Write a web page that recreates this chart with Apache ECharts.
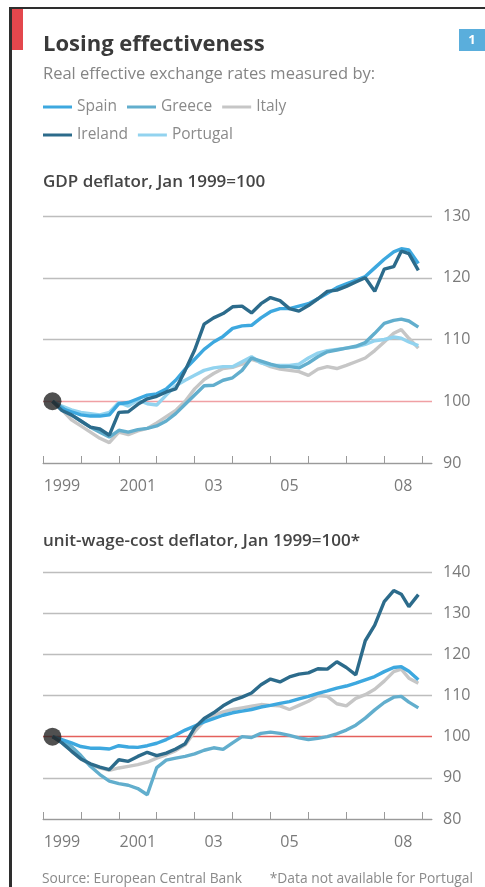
<!DOCTYPE html>
<html>
<head>
<meta charset="utf-8">
<script src="https://cdn.jsdelivr.net/npm/echarts@6/dist/echarts.min.js"></script>
<style>
  html, body { margin: 0; padding: 0; background: #fff; }
  #myecharts { width: 485px; height: 887px; }
</style>
</head>
<body>
<div id="myecharts"></div>
<script>
// quarterly readings, Jan 1999 = 100
var years = [1999.25, 1999.5, 1999.75, 2000, 2000.25, 2000.5, 2000.75, 2001, 2001.25, 2001.5,
  2001.75, 2002, 2002.25, 2002.5, 2002.75, 2003, 2003.25, 2003.5, 2003.75, 2004,
  2004.25, 2004.5, 2004.75, 2005, 2005.25, 2005.5, 2005.75, 2006, 2006.25, 2006.5,
  2006.75, 2007, 2007.25, 2007.5, 2007.75, 2008, 2008.25, 2008.45, 2008.65, 2008.9];

// GDP deflator
var gdpSpain = [100, 98.8, 98.3, 97.8, 97.6, 97.6, 97.8, 99.6, 99.8, 100.4, 101, 101.2, 102, 103.4, 105.2, 106.8, 108.4, 109.6, 110.5, 111.8, 112.2, 112.3, 113.5, 114.5, 115, 115, 115.4, 115.8, 116.6, 117.5, 118.4, 119, 119.6, 120.2, 121.6, 123, 124.2, 124.7, 124.5, 122.3];
var gdpGreece = [100, 99, 97.8, 96.8, 95.8, 95, 94.2, 95.3, 95, 95.4, 95.6, 96, 96.8, 98, 99.5, 101, 102.5, 102.6, 103.4, 103.8, 105, 107, 106.5, 106, 105.6, 105.6, 105.4, 106.2, 107.2, 108, 108.3, 108.6, 108.9, 109.5, 111, 112.6, 113.1, 113.3, 113, 112];
var gdpItaly = [100, 98.6, 97, 96, 95, 94, 93.3, 95, 94.6, 95.2, 95.6, 96.5, 97.5, 98.5, 100, 102, 103.5, 104.5, 105.3, 105.5, 106, 106.8, 106.3, 105.6, 105.2, 105, 104.8, 104.2, 105.2, 105.6, 105.3, 105.8, 106.4, 107, 108.2, 109.6, 111, 111.6, 110.2, 108.6];
var gdpIreland = [100, 98.5, 97.8, 96.8, 95.8, 95.5, 94.5, 98.2, 98.3, 99.5, 100.4, 100.8, 101.5, 102, 105, 108.3, 112.5, 113.5, 114.2, 115.3, 115.4, 114.3, 115.8, 116.8, 116.3, 115, 114.6, 115.5, 116.6, 117.8, 118, 118.6, 119.3, 120, 117.8, 121.4, 121.8, 124.3, 123.9, 121.2];
var gdpPortugal = [100, 99.2, 98.6, 98.2, 98, 97.8, 98.2, 99.8, 99.2, 100.2, 99.6, 99.4, 101, 102.5, 103.4, 104.2, 105, 105.4, 105.6, 105.6, 106.4, 107.2, 106.2, 105.8, 105.8, 105.8, 106, 107, 107.8, 108.2, 108.4, 108.6, 108.8, 109.2, 109.8, 110, 110.4, 110.2, 109.6, 109];

// unit-wage-cost deflator (no Portugal)
var ulcSpain = [100, 99.3, 98.5, 97.6, 97.2, 97.2, 97, 97.8, 97.5, 97.4, 97.8, 98.4, 99.3, 100.4, 101.6, 102.6, 103.6, 104.4, 105.2, 105.8, 106.2, 106.6, 107.2, 107.6, 108.1, 108.5, 109.2, 109.8, 110.5, 111.1, 111.8, 112.3, 113, 113.8, 114.6, 115.8, 116.8, 117, 115.9, 113.8];
var ulcGreece = [100, 99, 97.6, 95.4, 92.8, 90.8, 89.2, 88.6, 88.2, 87.4, 85.9, 92.5, 94.3, 94.8, 95.2, 95.8, 96.7, 97.3, 96.9, 98.5, 100, 99.8, 100.8, 101.1, 100.8, 100.3, 99.7, 99.3, 99.6, 100, 100.7, 101.6, 102.8, 104.5, 106.5, 108.3, 109.6, 109.8, 108.4, 107];
var ulcItaly = [100, 98.6, 96.5, 94.6, 93.2, 92.4, 91.8, 92.4, 92.8, 93.2, 93.8, 94.8, 95.6, 96.6, 98, 101.2, 103.8, 105.2, 106, 106.6, 107, 107.4, 107.8, 107.6, 107.5, 106.6, 107.6, 108.6, 110, 109.8, 108, 107.5, 109.3, 110.2, 111.5, 113.5, 115.8, 116.4, 114.2, 113];
var ulcIreland = [100, 98.5, 96.5, 94.6, 93.4, 92.6, 92, 94.4, 94, 95.2, 96.2, 95.4, 96, 97, 98.3, 102.2, 104.4, 105.8, 107.5, 108.8, 109.6, 110.6, 112.6, 114, 113.3, 114.5, 115.2, 115.5, 116.5, 116.4, 118.2, 116.8, 115, 123.3, 127.1, 132.8, 135.5, 134.6, 131.6, 134.5];

var tickYears = [1999, 2000, 2001, 2002, 2003, 2004, 2005, 2006, 2007, 2008, 2009];
var labelYears = [1999.5, 2001.5, 2003.5, 2005.5, 2008.5];
var labelText = ['1999', '2001', '03', '05', '08'];

var colors = {
  Spain: '#3da8df',
  Greece: '#62aecd',
  Italy: '#c6c6c6',
  Ireland: '#2c6b8b',
  Portugal: '#92d3ef'
};

var font = '"Open Sans", "Noto Sans", sans-serif';

function pairs(vals) {
  return vals.map(function (v, i) { return [years[i], v]; });
}

function line(name, vals, idx) {
  return {
    name: name, type: 'line', xAxisIndex: idx, yAxisIndex: idx,
    data: pairs(vals), showSymbol: false, symbol: 'none',
    lineStyle: { width: 3.4, color: colors[name] },
    itemStyle: { color: colors[name] },
    animation: false
  };
}

function xAx(idx) {
  return {
    type: 'value', gridIndex: idx, min: 1999, max: 2009.26,
    axisLine: { show: true, lineStyle: { color: '#9a9a9a', width: 1 } },
    axisTick: { show: true, inside: true, length: 7, customValues: tickYears, lineStyle: { color: '#9a9a9a' } },
    axisLabel: {
      customValues: labelYears, margin: 15, color: '#7a7a7a', fontSize: 16, fontFamily: font,
      formatter: function (v) { return labelText[labelYears.indexOf(v)]; }
    },
    splitLine: { show: false }
  };
}

function yAx(idx, min, max, lineColors) {
  return {
    type: 'value', gridIndex: idx, position: 'right', min: min, max: max, interval: 10,
    axisLine: { show: false }, axisTick: { show: false },
    axisLabel: { margin: 11, color: '#7a7a7a', fontSize: 16, fontFamily: font },
    splitLine: { show: true, lineStyle: { color: lineColors, width: 1.3 } }
  };
}

var hh = document.getElementById('myecharts');
var echart = echarts.init(hh, null, { renderer: 'canvas' });

var legendText = { color: '#8a8a8a', fontSize: 15.5, fontFamily: font };

echart.setOption({
  animation: false,
  backgroundColor: '#ffffff',
  title: [
    { text: 'Losing effectiveness', left: 43, top: 34, padding: 0,
      textStyle: { fontSize: 22, fontWeight: 'bold', color: '#3a3a3a', fontFamily: font } },
    { text: 'Real effective exchange rates measured by:', left: 43, top: 66, padding: 0,
      textStyle: { fontSize: 16.5, fontWeight: 'normal', color: '#858585', fontFamily: font } },
    { text: 'GDP deflator, Jan 1999=100', left: 43, top: 174, padding: 0,
      textStyle: { fontSize: 17, fontWeight: 600, color: '#454545', fontFamily: font } },
    { text: 'unit-wage-cost deflator, Jan 1999=100*', left: 43, top: 533, padding: 0,
      textStyle: { fontSize: 17, fontWeight: 600, color: '#454545', fontFamily: font } },
    { text: 'Source: European Central Bank', left: 42, top: 872, padding: 0,
      textStyle: { fontSize: 13.8, fontWeight: 'normal', color: '#8a8a8a', fontFamily: font } },
    { text: '*Data not available for Portugal', right: 12, top: 872, padding: 0,
      textStyle: { fontSize: 13.8, fontWeight: 'normal', color: '#8a8a8a', fontFamily: font } }
  ],
  legend: [
    { left: 43, top: 99, padding: 0, icon: 'rect', itemWidth: 29, itemHeight: 3, itemGap: 10,
      textStyle: legendText, selectedMode: false,
      data: [{ name: 'Spain', textStyle: { width: 75 } }, { name: 'Greece', textStyle: { width: 81 } }, 'Italy'] },
    { left: 43, top: 127, padding: 0, icon: 'rect', itemWidth: 29, itemHeight: 3, itemGap: 10,
      textStyle: legendText, selectedMode: false,
      data: [{ name: 'Ireland', textStyle: { width: 75 } }, 'Portugal'] }
  ],
  grid: [
    { left: 43, right: 53, top: 216, height: 247 },
    { left: 43, right: 53, top: 572, height: 247 }
  ],
  xAxis: [xAx(0), xAx(1)],
  yAxis: [
    yAx(0, 90, 130, ['#a8a8a8', '#f0a0a4', '#bdbdbd', '#bdbdbd', '#bdbdbd']),
    yAx(1, 80, 140, ['#a8a8a8', '#bdbdbd', '#e4605c', '#bdbdbd', '#bdbdbd', '#bdbdbd', '#bdbdbd'])
  ],
  graphic: [
    { type: 'rect', shape: { x: 9, y: 7, width: 476, height: 2 }, style: { fill: '#2e2e2e' } },
    { type: 'rect', shape: { x: 9, y: 7, width: 3, height: 880 }, style: { fill: '#2e2e2e' } },
    { type: 'rect', shape: { x: 12, y: 9, width: 11, height: 41 }, style: { fill: '#e3474d' } },
    { type: 'rect', shape: { x: 459, y: 29, width: 26, height: 22 }, style: { fill: '#5aaedc' } },
    { type: 'text', x: 472, y: 40, style: { text: '1', fill: '#fff', font: 'bold 13px ' + font, align: 'center', verticalAlign: 'middle' } }
  ],
  series: [
    line('Italy', gdpItaly, 0),
    line('Portugal', gdpPortugal, 0),
    line('Greece', gdpGreece, 0),
    line('Spain', gdpSpain, 0),
    line('Ireland', gdpIreland, 0),
    { type: 'scatter', xAxisIndex: 0, yAxisIndex: 0, data: [[years[0], 100]], symbolSize: 18,
      itemStyle: { color: '#242424' }, z: 5 },
    line('Italy', ulcItaly, 1),
    line('Greece', ulcGreece, 1),
    line('Spain', ulcSpain, 1),
    line('Ireland', ulcIreland, 1),
    { type: 'scatter', xAxisIndex: 1, yAxisIndex: 1, data: [[years[0], 100]], symbolSize: 18,
      itemStyle: { color: '#242424' }, z: 5 }
  ]
});

window.addEventListener('resize', function () {
  if (echart) {
    echart.resize();
  }
});
</script>
</body>
</html>
